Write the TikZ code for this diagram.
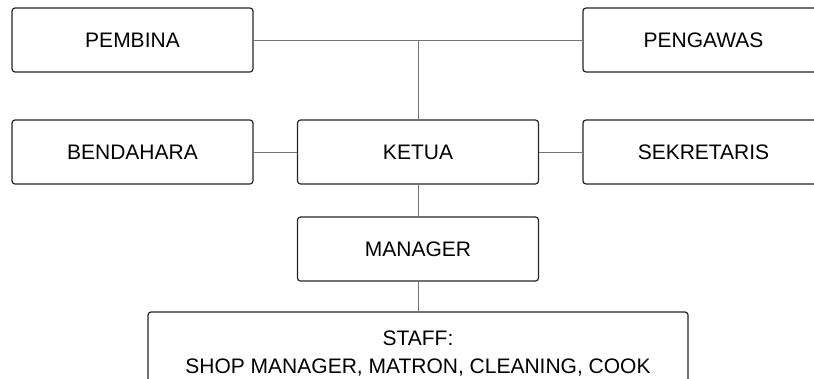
\documentclass[tikz,border=0pt]{standalone}
\usepackage{fontspec}
\setmainfont{Liberation Sans}
\begin{document}
\begin{tikzpicture}[x=1pt, y=-1pt,
        box/.style={
            rectangle,
            rounded corners=3pt,
            draw=black!85, line width=1.2pt,
            minimum width=241pt,
            minimum height=64pt,
            font=\fontsize{21}{28}\selectfont,
            align=center},
        line/.style={
            draw=black!55,
            line width=1pt}
        ]

        \clip (0,0) rectangle (814,378);
        \fill[white] (0,0) rectangle (814,378);

        \node (pembina) [box] at (132.5,40) {PEMBINA};
        \node (pengawas) [box] at (703.5,40) {PENGAWAS};
        \node (bendahara) [box] at (132.5,152) {BENDAHARA};
        \node (ketua) [box] at (418,152) {KETUA};
        \node (sekretaris) [box] at (703.5,152) {SEKRETARIS};
        \node (manager) [box] at (418,249) {MANAGER};
        \node (staff) [box, minimum width=540pt, minimum height=84pt] at (418,354)
            {STAFF:\\SHOP MANAGER, MATRON, CLEANING, COOK};

        \draw [line] (pembina) -- (pengawas);
        \draw [line] (ketua.north) -- (ketua.north |- pembina.east);
        \draw [line] (bendahara) -- (ketua);
        \draw [line] (ketua) -- (sekretaris);
        \draw [line] (ketua) -- (manager);
        \draw [line] (manager) -- (staff);

        \end{tikzpicture}
\end{document}
